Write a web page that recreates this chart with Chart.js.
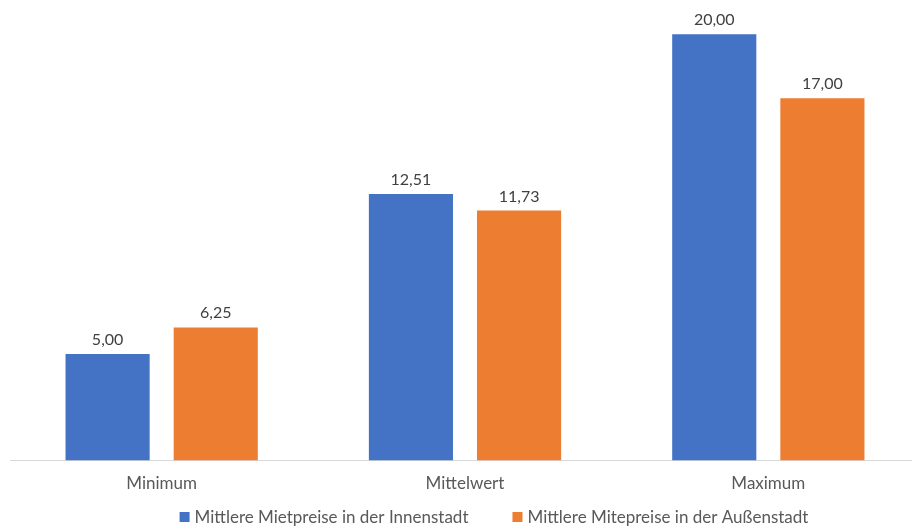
<!DOCTYPE html>
<html>
<head>
<meta charset="utf-8">
<script src="https://cdn.jsdelivr.net/npm/chart.js@4/dist/chart.umd.min.js"></script>
<style>
  html, body { margin: 0; padding: 0; background: #ffffff; overflow: hidden; }
  #wrap { width: 920px; height: 526px; position: relative; }
</style>
</head>
<body>
<div id="wrap"><canvas id="rentChart"></canvas></div>
<script>
// Data
const categories = ['Minimum', 'Mittelwert', 'Maximum'];
const innerCity = [5.00, 12.51, 20.00];
const outerCity = [6.25, 11.73, 17.00];
const seriesNames = [
    'Mittlere Mietpreise in der Innenstadt',
    'Mittlere Mitepreise in der Außenstadt'
];

const fontFamily = "Lato, 'Liberation Sans', sans-serif";
const textGrey = '#595959';

// Value labels above each bar, German number format
const valueLabels = {
    id: 'valueLabels',
    afterDatasetsDraw(chart) {
        const ctx = chart.ctx;
        ctx.save();
        ctx.font = '16px ' + fontFamily;
        ctx.fillStyle = '#404040';
        ctx.textAlign = 'center';
        ctx.textBaseline = 'alphabetic';
        chart.data.datasets.forEach((ds, i) => {
            chart.getDatasetMeta(i).data.forEach((bar, j) => {
                const txt = ds.data[j].toLocaleString('de-DE', {
                    minimumFractionDigits: 2,
                    maximumFractionDigits: 2
                });
                ctx.fillText(txt, bar.x, bar.y - 9);
            });
        });
        ctx.restore();
    }
};

// Legend drawn by hand so the gap between the two entries can be wider
const bottomLegend = {
    id: 'bottomLegend',
    afterDraw(chart) {
        const ctx = chart.ctx;
        const box = 10, boxGap = 5, itemGap = 44;
        const centerX = 494, centerY = 517;
        ctx.save();
        ctx.font = '17px ' + fontFamily;
        ctx.textBaseline = 'middle';
        ctx.textAlign = 'left';
        const items = chart.data.datasets.map(ds => ({
            text: ds.label,
            color: ds.backgroundColor,
            w: ctx.measureText(ds.label).width
        }));
        let total = 0;
        items.forEach((it, i) => {
            total += box + boxGap + it.w + (i ? itemGap : 0);
        });
        let x = centerX - total / 2;
        items.forEach(it => {
            ctx.fillStyle = it.color;
            ctx.fillRect(x, centerY - box / 2, box, box);
            x += box + boxGap;
            ctx.fillStyle = textGrey;
            ctx.fillText(it.text, x, centerY + 1);
            x += it.w + itemGap;
        });
        ctx.restore();
    }
};

const ctx = document.getElementById('rentChart').getContext('2d');
new Chart(ctx, {
    type: 'bar',
    data: {
        labels: categories,
        datasets: [
            { label: seriesNames[0], data: innerCity, backgroundColor: '#4472C4' },
            { label: seriesNames[1], data: outerCity, backgroundColor: '#ED7D31' }
        ]
    },
    options: {
        responsive: true,
        maintainAspectRatio: false,
        animation: false,
        categoryPercentage: 0.713,
        barPercentage: 0.778,
        layout: {
            padding: { top: 13, left: 10, right: 0, bottom: 27 }
        },
        scales: {
            x: {
                grid: { display: false },
                border: { color: '#d9d9d9', width: 1 },
                ticks: {
                    color: textGrey,
                    font: { family: fontFamily, size: 17 },
                    padding: 5
                }
            },
            y: {
                display: false,
                min: 0,
                max: 21
            }
        },
        plugins: {
            legend: { display: false },
            tooltip: { enabled: false }
        }
    },
    plugins: [valueLabels, bottomLegend]
});
</script>
</body>
</html>
